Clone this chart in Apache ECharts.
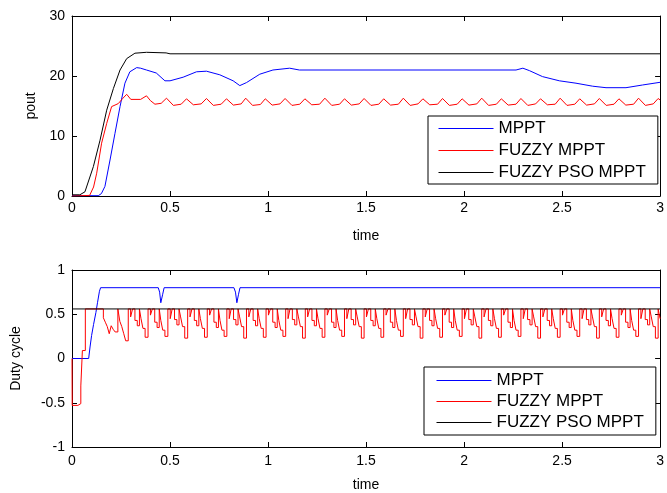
<!DOCTYPE html>
<html><head><meta charset="utf-8">
<script src="https://cdn.jsdelivr.net/npm/echarts@6/dist/echarts.min.js"></script>
<style>html,body{margin:0;padding:0;background:#fff}#c{width:667px;height:493px}</style>
</head><body><div id="c"></div>
<script>
const timeTicks = ['0','0.5','1','1.5','2','2.5','3'];
const seriesNames = ['MPPT','FUZZY MPPT','FUZZY PSO MPPT'];

// Top plot: output power (pout)
const poutMPPT = [[0,0.05],[0.134,0.05],[0.15,0.4],[0.168,1.6],[0.194,6],[0.219,10.4],[0.245,14.9],[0.27,18.8],[0.295,20.7],[0.33,21.4],[0.35,21.3],[0.38,21],[0.43,20.5],[0.474,19.2],[0.5,19.2],[0.567,19.8],[0.635,20.7],[0.686,20.8],[0.754,20.2],[0.822,19.2],[0.856,18.4],[0.89,18.9],[0.958,20.3],[1.025,21],[1.11,21.3],[1.16,21],[2.265,21],[2.3,21.3],[2.333,20.9],[2.4,19.9],[2.486,19.2],[2.571,18.8],[2.656,18.3],[2.724,18.05],[2.826,18.05],[2.91,18.5],[3.0,18.95]];
const poutFuzzy = [[0,0],[0.09,0.1],[0.11,1.5],[0.126,3.8],[0.151,8.8],[0.177,12.1],[0.202,14.9],[0.236,15.4],[0.26,16.3],[0.279,16.95],[0.3,16.1],[0.35,16.1],[0.38,16.7],[0.4,15.9],[0.423,15.3],[0.455,15.45],[0.482,16.3],
[0.517,15.1],[0.557,15.3],[0.584,16.2],[0.619,15.2],[0.659,15.35],[0.686,16.25],[0.721,15.1],[0.761,15.3],[0.788,16.2],[0.823,15.15],[0.863,15.35],[0.886,16.3],[0.921,15.1],[0.961,15.25],[0.986,16.2],
[1.021,15.15],[1.061,15.35],[1.087,16.25],[1.122,15.1],[1.162,15.3],[1.188,16.2],[1.223,15.2],[1.263,15.3],[1.29,16.3],[1.325,15.1],[1.365,15.3],[1.39,16.2],[1.425,15.15],[1.465,15.35],[1.49,16.25],
[1.525,15.1],[1.565,15.3],[1.59,16.2],[1.625,15.15],[1.665,15.3],[1.69,16.3],[1.725,15.1],[1.765,15.35],[1.79,16.2],[1.825,15.2],[1.865,15.3],[1.89,16.25],[1.925,15.1],[1.965,15.3],[1.99,16.2],
[2.025,15.15],[2.065,15.35],[2.09,16.3],[2.125,15.1],[2.165,15.3],[2.19,16.2],[2.225,15.15],[2.265,15.3],[2.29,16.25],[2.325,15.1],[2.365,15.35],[2.39,16.2],[2.425,15.2],[2.465,15.3],[2.49,16.3],
[2.525,15.1],[2.565,15.3],[2.59,16.2],[2.625,15.15],[2.665,15.35],[2.69,16.25],[2.725,15.1],[2.765,15.3],[2.79,16.2],[2.825,15.15],[2.865,15.3],[2.89,16.3],[2.925,15.1],[2.965,15.35],[2.99,16.25],[3.0,16.0]];
const poutPSO = [[0,0.2],[0.04,0.2],[0.066,0.7],[0.109,4.9],[0.143,9.3],[0.177,14.3],[0.211,17.9],[0.245,21],[0.279,22.9],[0.321,23.8],[0.38,23.95],[0.48,23.85],[0.5,23.7],[3,23.7]];

// Bottom plot: duty cycle
const dutyMPPT = [[0,0],[0.085,0],[0.092,0.13],[0.1,0.26],[0.11,0.385],[0.122,0.52],[0.13,0.63],[0.14,0.76],[0.146,0.8],[0.44,0.8],[0.447,0.75],[0.453,0.63],[0.462,0.72],[0.47,0.8],[0.826,0.8],[0.834,0.75],[0.841,0.63],[0.849,0.72],[0.857,0.8],[3,0.8]];
const dutyFuzzy = [[0,0],[0.001,-0.53],[0.03,-0.53],[0.04,-0.51],[0.045,-0.31],[0.053,0.09],[0.068,0.56],[0.16,0.46],[0.17,0.41],[0.18,0.36],[0.19,0.28],[0.2,0.37],[0.21,0.33],[0.22,0.3],[0.234,0.56],[0.244,0.42],[0.254,0.36],[0.264,0.28],[0.274,0.2],
[0.287,0.56],[0.299,0.47],[0.309,0.56],[0.321,0.43],[0.333,0.37],[0.344,0.56],[0.352,0.45],[0.362,0.34],[0.373,0.24],
[0.388,0.56],[0.4,0.49],[0.41,0.56],[0.422,0.41],[0.434,0.35],[0.445,0.56],[0.453,0.43],[0.463,0.32],[0.474,0.25],
[0.489,0.56],[0.501,0.45],[0.511,0.56],[0.523,0.44],[0.535,0.38],[0.546,0.56],[0.554,0.47],[0.564,0.36],[0.575,0.23],
[0.59,0.56],[0.602,0.47],[0.612,0.56],[0.624,0.43],[0.636,0.37],[0.647,0.56],[0.655,0.45],[0.665,0.34],[0.676,0.24],
[0.69,0.56],[0.702,0.49],[0.712,0.56],[0.724,0.41],[0.736,0.35],[0.747,0.56],[0.755,0.43],[0.765,0.32],[0.776,0.25],
[0.79,0.56],[0.802,0.45],[0.812,0.56],[0.824,0.44],[0.836,0.38],[0.847,0.56],[0.855,0.47],[0.865,0.36],[0.876,0.23],
[0.89,0.56],[0.902,0.47],[0.912,0.56],[0.924,0.43],[0.936,0.37],[0.947,0.56],[0.955,0.45],[0.965,0.34],[0.976,0.24],
[0.99,0.56],[1.002,0.49],[1.012,0.56],[1.024,0.41],[1.036,0.35],[1.047,0.56],[1.055,0.43],[1.065,0.32],[1.076,0.25],
[1.09,0.56],[1.102,0.45],[1.112,0.56],[1.124,0.44],[1.136,0.38],[1.147,0.56],[1.155,0.47],[1.165,0.36],[1.176,0.23],
[1.19,0.56],[1.202,0.47],[1.212,0.56],[1.224,0.43],[1.236,0.37],[1.247,0.56],[1.255,0.45],[1.265,0.34],[1.276,0.24],
[1.29,0.56],[1.302,0.49],[1.312,0.56],[1.324,0.41],[1.336,0.35],[1.347,0.56],[1.355,0.43],[1.365,0.32],[1.376,0.25],
[1.39,0.56],[1.402,0.45],[1.412,0.56],[1.424,0.44],[1.436,0.38],[1.447,0.56],[1.455,0.47],[1.465,0.36],[1.476,0.23],
[1.49,0.56],[1.502,0.47],[1.512,0.56],[1.524,0.43],[1.536,0.37],[1.547,0.56],[1.555,0.45],[1.565,0.34],[1.576,0.24],
[1.59,0.56],[1.602,0.49],[1.612,0.56],[1.624,0.41],[1.636,0.35],[1.647,0.56],[1.655,0.43],[1.665,0.32],[1.676,0.25],
[1.69,0.56],[1.702,0.45],[1.712,0.56],[1.724,0.44],[1.736,0.38],[1.747,0.56],[1.755,0.47],[1.765,0.36],[1.776,0.23],
[1.79,0.56],[1.802,0.47],[1.812,0.56],[1.824,0.43],[1.836,0.37],[1.847,0.56],[1.855,0.45],[1.865,0.34],[1.876,0.24],
[1.89,0.56],[1.902,0.49],[1.912,0.56],[1.924,0.41],[1.936,0.35],[1.947,0.56],[1.955,0.43],[1.965,0.32],[1.976,0.25],
[1.99,0.56],[2.002,0.45],[2.012,0.56],[2.024,0.44],[2.036,0.38],[2.047,0.56],[2.055,0.47],[2.065,0.36],[2.076,0.23],
[2.09,0.56],[2.102,0.47],[2.112,0.56],[2.124,0.43],[2.136,0.37],[2.147,0.56],[2.155,0.45],[2.165,0.34],[2.176,0.24],
[2.19,0.56],[2.202,0.49],[2.212,0.56],[2.224,0.41],[2.236,0.35],[2.247,0.56],[2.255,0.43],[2.265,0.32],[2.276,0.25],
[2.29,0.56],[2.302,0.45],[2.312,0.56],[2.324,0.44],[2.336,0.38],[2.347,0.56],[2.355,0.47],[2.365,0.36],[2.376,0.23],
[2.39,0.56],[2.402,0.47],[2.412,0.56],[2.424,0.43],[2.436,0.37],[2.447,0.56],[2.455,0.45],[2.465,0.34],[2.476,0.24],
[2.49,0.56],[2.502,0.49],[2.512,0.56],[2.524,0.41],[2.536,0.35],[2.547,0.56],[2.555,0.43],[2.565,0.32],[2.576,0.25],
[2.59,0.56],[2.602,0.45],[2.612,0.56],[2.624,0.44],[2.636,0.38],[2.647,0.56],[2.655,0.47],[2.665,0.36],[2.676,0.23],
[2.69,0.56],[2.702,0.47],[2.712,0.56],[2.724,0.43],[2.736,0.37],[2.747,0.56],[2.755,0.45],[2.765,0.34],[2.776,0.24],
[2.79,0.56],[2.802,0.49],[2.812,0.56],[2.824,0.41],[2.836,0.35],[2.847,0.56],[2.855,0.43],[2.865,0.32],[2.876,0.25],
[2.89,0.56],[2.902,0.45],[2.912,0.56],[2.924,0.44],[2.936,0.38],[2.947,0.56],[2.955,0.47],[2.965,0.36],[2.976,0.23],
[2.99,0.56],[3.0,0.45]];
const dutyPSO = [[0,0.56],[3,0.56]];

const FONT = 'Liberation Sans, Arial, sans-serif';
const colors = ['#0000ff','#ff0000','#000000'];

function xAx(grid, pos, labels, margin, name, gap) {
  return {
    type:'value', gridIndex:grid, position:pos, min:0, max:3, interval:0.5,
    axisLine:{show:true,onZero:false,lineStyle:{color:'#000',width:1}},
    axisTick:{show:true,inside:true,length:5,lineStyle:{color:'#000'}},
    axisLabel:{show:labels,margin:margin,color:'#000',fontSize:14,fontFamily:FONT,
      formatter:v=>timeTicks[Math.round(v/0.5)]},
    splitLine:{show:false},
    name: name||'', nameLocation:'middle', nameGap:gap||0,
    nameTextStyle:{color:'#000',fontSize:14,fontFamily:FONT}
  };
}
function yAx(grid, pos, labels, min, max, interval, name, gap) {
  return {
    type:'value', gridIndex:grid, position:pos, min:min, max:max, interval:interval,
    axisLine:{show:true,onZero:false,lineStyle:{color:'#000',width:1}},
    axisTick:{show:true,inside:true,length:5,lineStyle:{color:'#000'}},
    axisLabel:{show:labels,margin:7,color:'#000',fontSize:14,fontFamily:FONT},
    splitLine:{show:false},
    name: name||'', nameLocation:'middle', nameGap:gap||0, nameRotate:90,
    nameTextStyle:{color:'#000',fontSize:14,fontFamily:FONT}
  };
}
function line(name, data, xi, yi, color, z, step) {
  return {name:name,type:'line',data:data,xAxisIndex:xi,yAxisIndex:yi,showSymbol:false,symbol:'none',
    step:step||false,lineStyle:{color:color,width:1},itemStyle:{color:color},z:z,silent:true};
}
function legend(left, top, pad, gap) {
  return {data:seriesNames,left:left,top:top,orient:'vertical',itemWidth:55,itemHeight:20,itemGap:gap,
    padding:pad,borderColor:'#000',borderWidth:1,backgroundColor:'#fff',selectedMode:false,
    itemStyle:{opacity:0},lineStyle:{width:1},
    textStyle:{color:'#000',fontSize:17,fontFamily:FONT}};
}

const chart = echarts.init(document.getElementById('c'), null, {renderer:'canvas'});
chart.setOption({
  animation:false,
  backgroundColor:'#fff',
  grid:[
    {left:72,top:16,width:590,height:180,show:true,backgroundColor:'#fff',borderWidth:0},
    {left:72,top:270,width:590,height:179,show:true,backgroundColor:'#fff',borderWidth:0}
  ],
  xAxis:[
    xAx(0,'bottom',true,5,'time',33),
    xAx(0,'top',false,0),
    xAx(1,'bottom',true,7,'time',31),
    xAx(1,'top',false,0)
  ],
  yAxis:[
    yAx(0,'left',true,0,30,10,'pout',30),
    yAx(0,'right',false,0,30,10),
    yAx(1,'left',true,-1,1,0.5,'Duty cycle',49),
    yAx(1,'right',false,-1,1,0.5)
  ],
  legend:[
    legend(428,116,[4,12,3,10],5),
    legend(424,367,[5,12,4,12],4)
  ],
  series:[
    line(seriesNames[0],poutMPPT,0,0,colors[0],2),
    line(seriesNames[1],poutFuzzy,0,0,colors[1],3),
    line(seriesNames[2],poutPSO,0,0,colors[2],4),
    line(seriesNames[0],dutyMPPT,2,2,colors[0],2),
    line(seriesNames[1],dutyFuzzy,2,2,colors[1],3,'end'),
    line(seriesNames[2],dutyPSO,2,2,colors[2],4)
  ]
});
</script></body></html>
